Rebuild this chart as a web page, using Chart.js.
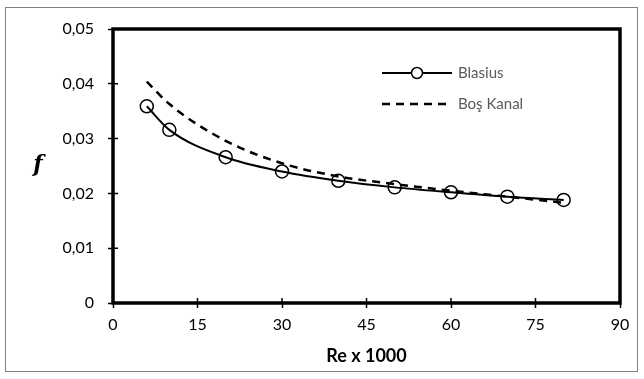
<!DOCTYPE html>
<html lang="tr">
<head>
<meta charset="UTF-8">
<title>f - Re</title>
<script src="https://cdn.jsdelivr.net/npm/chart.js"></script>
<style>
  html, body { margin: 0; padding: 0; background: #fff; }
  canvas { display: block; }
</style>
</head>
<body>
<canvas id="chart" width="644" height="379"></canvas>
<script>
  // Veriler
  const reValues = [6, 10, 20, 30, 40, 50, 60, 70, 80];
  const blasius = [0.0359, 0.0316, 0.0266, 0.0240, 0.0223, 0.0211, 0.0202, 0.0194, 0.0188];
  const bosKanal = [0.0404, 0.0363, 0.0296, 0.0255, 0.0231, 0.0217, 0.0205, 0.0194, 0.0183];
  const xTicks = [0, 15, 30, 45, 60, 75, 90];
  const yTicks = [0, 0.01, 0.02, 0.03, 0.04, 0.05];

  const FONT = 'Lato, "Open Sans", sans-serif';
  const pts = ys => reValues.map((x, i) => ({ x: x, y: ys[i] }));
  const fmt = v => v === 0 ? '0' : v.toFixed(2).replace('.', ',');

  // çerçeve, iç tik çizgileri, "f" etiketi ve lejant
  const decor = {
    id: 'decor',
    afterDraw(chart) {
      const ctx = chart.ctx;
      const a = chart.chartArea;
      const sx = chart.scales.x, sy = chart.scales.y;
      ctx.save();
      // dış çerçeve
      ctx.strokeStyle = '#7f7f7f';
      ctx.lineWidth = 1;
      ctx.strokeRect(5.5, 7.5, 632, 364);
      // iç tikler
      ctx.strokeStyle = '#000';
      ctx.lineWidth = 1.5;
      ctx.beginPath();
      xTicks.forEach(v => {
        const px = sx.getPixelForValue(v);
        ctx.moveTo(px, a.bottom); ctx.lineTo(px, a.bottom - 5);
      });
      yTicks.forEach(v => {
        const py = sy.getPixelForValue(v);
        ctx.moveTo(a.left, py); ctx.lineTo(a.left + 5, py);
      });
      ctx.stroke();
      // kalın kutu
      ctx.lineWidth = 3.5;
      ctx.strokeRect(a.left, a.top, a.right - a.left, a.bottom - a.top);
      // y ekseni başlığı
      ctx.fillStyle = '#000';
      ctx.font = 'italic bold 22px "DejaVu Serif", serif';
      ctx.textAlign = 'center';
      ctx.textBaseline = 'middle';
      ctx.fillText('f', 38, 165);
      // lejant
      ctx.font = '15px ' + FONT;
      ctx.textAlign = 'left';
      ctx.lineWidth = 2;
      ctx.beginPath(); ctx.moveTo(382, 73); ctx.lineTo(452, 73); ctx.stroke();
      ctx.fillStyle = '#fff';
      ctx.beginPath(); ctx.arc(417, 73, 5.5, 0, Math.PI * 2); ctx.fill();
      ctx.lineWidth = 1.5; ctx.stroke();
      ctx.fillStyle = '#595959';
      ctx.fillText('Blasius', 458, 73);
      ctx.strokeStyle = '#000';
      ctx.lineWidth = 2.5;
      ctx.setLineDash([8, 6]);
      ctx.beginPath(); ctx.moveTo(382, 104); ctx.lineTo(452, 104); ctx.stroke();
      ctx.setLineDash([]);
      ctx.fillText('Boş Kanal', 458, 104);
      ctx.restore();
    }
  };

  new Chart(document.getElementById('chart').getContext('2d'), {
    type: 'scatter',
    data: {
      datasets: [
        {
          label: 'Blasius',
          data: pts(blasius),
          showLine: true,
          borderColor: '#000',
          borderWidth: 2,
          cubicInterpolationMode: 'monotone',
          pointStyle: 'circle',
          pointRadius: 6.5,
          pointBorderWidth: 1.5,
          pointBorderColor: '#000',
          pointBackgroundColor: 'rgba(0,0,0,0)'
        },
        {
          label: 'Boş Kanal',
          data: pts(bosKanal),
          showLine: true,
          borderColor: '#000',
          borderWidth: 2.5,
          borderDash: [8, 6],
          cubicInterpolationMode: 'monotone',
          pointRadius: 0
        }
      ]
    },
    options: {
      responsive: false,
      animation: false,
      layout: { padding: { left: 8, right: 24, top: 29, bottom: 8 } },
      plugins: { legend: { display: false }, tooltip: { enabled: false } },
      scales: {
        x: {
          type: 'linear',
          min: 0, max: 90,
          afterBuildTicks: s => { s.ticks = xTicks.map(v => ({ value: v })); },
          afterFit: s => { s.height = 68; },
          grid: { display: true, drawOnChartArea: false, tickLength: 5, tickColor: '#000', tickWidth: 1.5 },
          border: { display: false },
          ticks: { color: '#000', font: { family: FONT, size: 16 }, padding: 7, maxRotation: 0 },
          title: { display: true, text: 'Re x 1000', color: '#000', font: { family: FONT, size: 18, weight: 'bold' }, padding: { top: 2 } }
        },
        y: {
          min: 0, max: 0.05,
          afterBuildTicks: s => { s.ticks = yTicks.map(v => ({ value: v })); },
          afterFit: s => { s.width = 105; },
          grid: { display: true, drawOnChartArea: false, tickLength: 5, tickColor: '#000', tickWidth: 1.5 },
          border: { display: false },
          ticks: { color: '#000', font: { family: FONT, size: 16 }, padding: 14, callback: v => fmt(v) }
        }
      }
    },
    plugins: [decor]
  });
</script>
</body>
</html>
